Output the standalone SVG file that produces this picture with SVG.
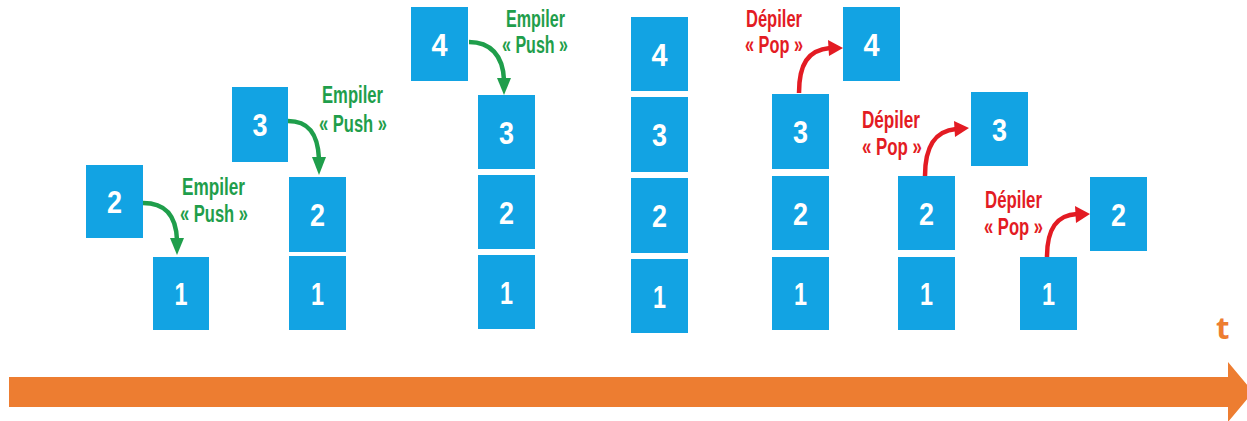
<svg xmlns="http://www.w3.org/2000/svg" width="1247" height="421" viewBox="0 0 1247 421">
  <style>
    .box { fill: #12a3e3; }
    .num { fill: #ffffff; font-family: "Liberation Sans", "DejaVu Sans Condensed", sans-serif; font-weight: bold; font-size: 32px; text-anchor: middle; }
    .lbl { font-family: "Liberation Sans", "DejaVu Sans Condensed", sans-serif; font-weight: bold; font-size: 23px; }
    .push { fill: #1f9e4b; }
    .pop { fill: #e31b23; }
    .push-line { fill: none; stroke: #1f9e4b; stroke-width: 4.5; }
    .pop-line { fill: none; stroke: #e31b23; stroke-width: 4.5; }
    .time { fill: #ed7d31; }
  </style>

  <!-- Step 1: push 2 onto 1 -->
  <g id="s1-item2"><rect class="box" x="86" y="165" width="57" height="73"/><text class="num" x="114.5" y="213" textLength="15" lengthAdjust="spacingAndGlyphs">2</text></g>
  <g id="s1-item1"><rect class="box" x="153" y="257" width="56" height="73"/><text class="num" x="181" y="305" textLength="13" lengthAdjust="spacingAndGlyphs">1</text></g>
  <g id="s1-label"><text class="lbl push" x="182" y="195" textLength="63" lengthAdjust="spacingAndGlyphs">Empiler</text><text class="lbl push" x="180" y="222" textLength="68" lengthAdjust="spacingAndGlyphs">« Push »</text></g>

  <!-- Step 2: push 3 -->
  <g id="s2-item3"><rect class="box" x="232" y="87" width="56" height="75"/><text class="num" x="260" y="136" textLength="15" lengthAdjust="spacingAndGlyphs">3</text></g>
  <g id="s2-item2"><rect class="box" x="289" y="177" width="57" height="75"/><text class="num" x="317.5" y="226" textLength="15" lengthAdjust="spacingAndGlyphs">2</text></g>
  <g id="s2-item1"><rect class="box" x="289" y="256" width="57" height="74"/><text class="num" x="317.5" y="305" textLength="13" lengthAdjust="spacingAndGlyphs">1</text></g>
  <g id="s2-label"><text class="lbl push" x="322" y="103" textLength="61" lengthAdjust="spacingAndGlyphs">Empiler</text><text class="lbl push" x="319" y="132" textLength="68" lengthAdjust="spacingAndGlyphs">« Push »</text></g>

  <!-- Step 3: push 4 -->
  <g id="s3-item4"><rect class="box" x="411" y="7" width="57" height="74"/><text class="num" x="439.5" y="56" textLength="16" lengthAdjust="spacingAndGlyphs">4</text></g>
  <g id="s3-item3"><rect class="box" x="478" y="95" width="57" height="74"/><text class="num" x="506.5" y="144" textLength="15" lengthAdjust="spacingAndGlyphs">3</text></g>
  <g id="s3-item2"><rect class="box" x="478" y="175" width="57" height="74"/><text class="num" x="506.5" y="224" textLength="15" lengthAdjust="spacingAndGlyphs">2</text></g>
  <g id="s3-item1"><rect class="box" x="478" y="255" width="57" height="74"/><text class="num" x="506.5" y="304" textLength="13" lengthAdjust="spacingAndGlyphs">1</text></g>
  <g id="s3-label"><text class="lbl push" x="506" y="27" textLength="59" lengthAdjust="spacingAndGlyphs">Empiler</text><text class="lbl push" x="502" y="53" textLength="66" lengthAdjust="spacingAndGlyphs">« Push »</text></g>

  <!-- Step 4: full stack -->
  <g id="s4-item4"><rect class="box" x="631" y="17" width="57" height="74"/><text class="num" x="659.5" y="66" textLength="16" lengthAdjust="spacingAndGlyphs">4</text></g>
  <g id="s4-item3"><rect class="box" x="631" y="97" width="57" height="75"/><text class="num" x="659.5" y="146" textLength="15" lengthAdjust="spacingAndGlyphs">3</text></g>
  <g id="s4-item2"><rect class="box" x="631" y="178" width="57" height="75"/><text class="num" x="659.5" y="227" textLength="15" lengthAdjust="spacingAndGlyphs">2</text></g>
  <g id="s4-item1"><rect class="box" x="631" y="259" width="57" height="74"/><text class="num" x="659.5" y="308" textLength="13" lengthAdjust="spacingAndGlyphs">1</text></g>

  <!-- Step 5: pop 4 -->
  <g id="s5-item4"><rect class="box" x="843" y="7" width="57" height="74"/><text class="num" x="871.5" y="56" textLength="16" lengthAdjust="spacingAndGlyphs">4</text></g>
  <g id="s5-item3"><rect class="box" x="772" y="94" width="57" height="75"/><text class="num" x="800.5" y="143" textLength="15" lengthAdjust="spacingAndGlyphs">3</text></g>
  <g id="s5-item2"><rect class="box" x="772" y="176" width="57" height="74"/><text class="num" x="800.5" y="225" textLength="15" lengthAdjust="spacingAndGlyphs">2</text></g>
  <g id="s5-item1"><rect class="box" x="772" y="257" width="57" height="73"/><text class="num" x="800.5" y="305" textLength="13" lengthAdjust="spacingAndGlyphs">1</text></g>
  <g id="s5-label"><text class="lbl pop" x="746" y="27" textLength="56" lengthAdjust="spacingAndGlyphs">Dépiler</text><text class="lbl pop" x="745" y="53" textLength="58" lengthAdjust="spacingAndGlyphs">« Pop »</text></g>

  <!-- Step 6: pop 3 -->
  <g id="s6-item3"><rect class="box" x="971" y="92" width="57" height="74"/><text class="num" x="999.5" y="141" textLength="15" lengthAdjust="spacingAndGlyphs">3</text></g>
  <g id="s6-item2"><rect class="box" x="898" y="176" width="57" height="74"/><text class="num" x="926.5" y="225" textLength="15" lengthAdjust="spacingAndGlyphs">2</text></g>
  <g id="s6-item1"><rect class="box" x="898" y="257" width="57" height="73"/><text class="num" x="926.5" y="305" textLength="13" lengthAdjust="spacingAndGlyphs">1</text></g>
  <g id="s6-label"><text class="lbl pop" x="862" y="128" textLength="58" lengthAdjust="spacingAndGlyphs">Dépiler</text><text class="lbl pop" x="862" y="155" textLength="60" lengthAdjust="spacingAndGlyphs">« Pop »</text></g>

  <!-- Step 7: pop 2 -->
  <g id="s7-item2"><rect class="box" x="1090" y="177" width="57" height="74"/><text class="num" x="1118.5" y="226" textLength="15" lengthAdjust="spacingAndGlyphs">2</text></g>
  <g id="s7-item1"><rect class="box" x="1020" y="257" width="57" height="73"/><text class="num" x="1048.5" y="305" textLength="13" lengthAdjust="spacingAndGlyphs">1</text></g>
  <g id="s7-label"><text class="lbl pop" x="985" y="208" textLength="57" lengthAdjust="spacingAndGlyphs">Dépiler</text><text class="lbl pop" x="984" y="235" textLength="59" lengthAdjust="spacingAndGlyphs">« Pop »</text></g>

  <!-- Time axis label -->
  <g id="time-label"><text x="1216" y="339" fill="#ed7d31" font-family="'Open Sans', 'Liberation Sans', sans-serif" font-weight="bold" font-size="31">t</text></g>

  <!-- Connectors: push/pop arrows and the time axis -->
  <g id="connectors">
    <path class="push-line" d="M143,203 C164,203 176,214 177,240"/>
    <polygon class="push" points="170,238 184,238 177,255"/>
    <path class="push-line" d="M288,121 C308,121 318,133 319,159"/>
    <polygon class="push" points="312,157 326,157 319,175"/>
    <path class="push-line" d="M469,42 C490,42 503,55 504,80"/>
    <polygon class="push" points="497,78 511,78 504,95"/>

    <path class="pop-line" d="M799,93 C799,64 808,50 830,48"/>
    <polygon class="pop" points="828,40 843,48 829,56"/>
    <path class="pop-line" d="M925,176 C925,146 935,131 956,129"/>
    <polygon class="pop" points="954,121 969,128 955,137"/>
    <path class="pop-line" d="M1047,257 C1047,228 1057,215 1077,214"/>
    <polygon class="pop" points="1075,206 1090,214 1076,223"/>

    <polygon class="time" points="9,377 1228,377 1228,362 1253,392 1228,422 1228,407 9,407"/>
  </g>
</svg>
